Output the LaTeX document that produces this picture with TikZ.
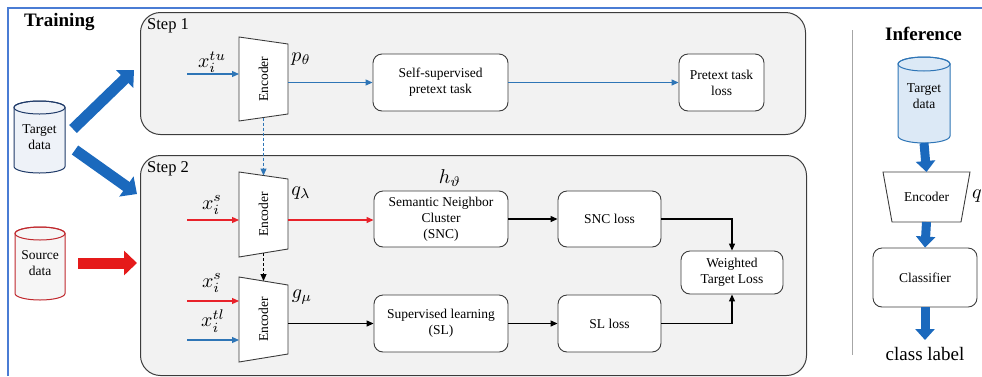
\documentclass[tikz,border=0pt]{standalone}
\usepackage{graphicx}
\usepackage{fontspec}
\setmainfont{Liberation Serif}
\usetikzlibrary{arrows.meta,calc}
\definecolor{lblue}{HTML}{2E75B6}
\definecolor{bigblue}{HTML}{1B69BD}
\definecolor{lred}{HTML}{E8222A}
\definecolor{bigred}{HTML}{E51A1A}
\definecolor{framebl}{HTML}{4A7CD4}
\definecolor{panelfill}{HTML}{F2F2F2}
\definecolor{edgegray}{HTML}{3C3C3C}
\definecolor{navyc}{HTML}{1F3A68}
\definecolor{dredc}{HTML}{C0282D}
\definecolor{cylfill}{HTML}{EEF2F8}
\definecolor{srcfill}{HTML}{F6F6F6}
\definecolor{infill}{HTML}{DCE9F6}
\newcommand\boxfont{\fontsize{13.5}{16}\selectfont}
\newcommand\mlab[1]{\scalebox{2.0}{$#1$}}
\newcommand\mycyl[8]{%
 \draw[draw=#7, fill=#8, line width=1pt] (#1,#3+#6) -- (#1,#4-#6)
   arc[start angle=180, end angle=360, x radius=#5pt, y radius=#6pt]
   -- (#2,#3+#6)
   arc[start angle=0, end angle=180, x radius=#5pt, y radius=#6pt] -- cycle;
 \draw[draw=#7, line width=1pt] ({(#1+#2)/2},#3+#6) ellipse[x radius=#5pt, y radius=#6pt];
}
\tikzset{
 panel/.style={draw=edgegray, line width=1pt, fill=panelfill, rounded corners=20pt, inner sep=0pt},
 blk/.style={draw=edgegray, line width=0.9pt, fill=white, rounded corners=9pt, align=center, font=\boxfont, inner sep=0pt},
 encshape/.style={draw=edgegray, line width=0.9pt, fill=white},
 ancr/.style={inner sep=0pt, outer sep=0pt},
 thinarr/.style={line width=1.2pt, -{Triangle[length=7pt,width=6pt]}},
 barr/.style={thinarr, lblue},
 rarr/.style={thinarr, lred},
 karr/.style={thinarr, black},
 dasharr/.style={line width=1.1pt, dash pattern=on 3pt off 2pt, -{Triangle[length=7pt,width=6pt]}},
 bigarr/.style={line width=11pt, -{Triangle[length=13pt,width=24pt]}},
 infarr/.style={line width=9pt, bigblue, -{Triangle[length=11pt,width=19pt]}},
 cyltext/.style={align=center, font=\boxfont, inner sep=0pt},
 mathlab/.style={inner sep=0pt},
}
\begin{document}
\begin{tikzpicture}[x=1pt, y=-1pt]
\useasboundingbox (0,0) rectangle (982,376);
% frame
\draw[framebl, line width=1.6pt] (8,376) -- (8,8) -- (982,8);
% titles
\node[anchor=base west, inner sep=0pt, font=\fontsize{19}{22}\selectfont\bfseries] (ttrain) at (24,26) {Training};
\node[anchor=base west, inner sep=0pt, font=\fontsize{19}{22}\selectfont\bfseries] (tinf) at (885,40) {Inference};
% panels
\node[panel, minimum width=665pt, minimum height=122pt, anchor=north west] (step1) at (140,12) {};
\node[panel, minimum width=666pt, minimum height=220pt, anchor=north west] (step2) at (140,155) {};
\node[anchor=base west, inner sep=0pt, font=\fontsize{16.5}{18}\selectfont] (s1lab) at (147,29) {Step 1};
\node[anchor=base west, inner sep=0pt, font=\fontsize{16.5}{18}\selectfont] (s2lab) at (147,172) {Step 2};
% cylinders (training)
\mycyl{14}{65}{101}{173}{25.5}{6.5}{navyc}{cylfill}
\node[cyltext, minimum width=51pt, minimum height=72pt] (td) at (39.5,137) {Target\\data};
\mycyl{15}{65}{227}{300}{25}{6.5}{dredc}{srcfill}
\node[cyltext, minimum width=50pt, minimum height=73pt] (sd) at (40,263.5) {Source\\data};
% big arrows
\coordinate (a1s) at (73,129);
\coordinate (a1e) at (134,70);
\coordinate (a2s) at (75,150);
\coordinate (a2e) at (137,194);
\coordinate (a3s) at (78,263);
\coordinate (a3e) at (137,263);
\draw[bigarr, bigblue] (a1s) -- (a1e);
\draw[bigarr, bigblue] (a2s) -- (a2e);
\draw[bigarr, bigred] (a3s) -- (a3e);
% encoders
\draw[encshape] (239,37) -- (288,44) -- (288,114) -- (239,121) -- cycle;
\node[ancr, minimum width=49pt, minimum height=84pt, label={[rotate=90, font=\boxfont]center:Encoder}] (enc1) at (263.5,79) {};
\draw[encshape] (239,172) -- (288,179) -- (288,249) -- (239,257) -- cycle;
\node[ancr, minimum width=49pt, minimum height=85pt, label={[rotate=90, font=\boxfont]center:Encoder}] (enc2) at (263.5,214.5) {};
\draw[encshape] (239,277) -- (288,285) -- (288,354) -- (239,362) -- cycle;
\node[ancr, minimum width=49pt, minimum height=85pt, label={[rotate=90, font=\boxfont]center:Encoder}] (enc3) at (263.5,319.5) {};
\coordinate (e1b) at (263.5,117.5);
\coordinate (e2t) at (263.5,175.5);
\coordinate (e2b) at (263.5,253);
\coordinate (e3t) at (263.5,281);
% math labels
\node[mathlab] (lxtu) at (212,62) {\mlab{x_i^{tu}}};
\node[mathlab] (lp) at (301,59) {\mlab{p_\theta}};
\node[mathlab] (lxs1) at (212,205) {\mlab{x_i^{s}}};
\node[mathlab] (lq) at (301,193) {\mlab{q_\lambda}};
\node[mathlab] (lxs2) at (212,283) {\mlab{x_i^{s}}};
\node[mathlab] (lxtl) at (213,321) {\mlab{x_i^{tl}}};
\node[mathlab] (lg) at (302,297) {\mlab{g_\mu}};
\node[mathlab] (lh) at (450,178) {\mlab{h_\vartheta}};
% blocks
\node[blk, minimum width=135pt, minimum height=57pt] (ss) at (440.5,82.5) {Self-supervised\\pretext task};
\node[blk, minimum width=85pt, minimum height=57pt] (ptl) at (721.5,82.5) {Pretext task\\loss};
\node[blk, minimum width=134pt, minimum height=56pt] (snc) at (441,219) {Semantic Neighbor\\Cluster\\(SNC)};
\node[blk, minimum width=134pt, minimum height=57pt] (sl) at (441,323.5) {Supervised learning\\(SL)};
\node[blk, minimum width=103pt, minimum height=56pt] (sncl) at (609.5,219) {SNC loss};
\node[blk, minimum width=103pt, minimum height=57pt] (sll) at (609.5,323.5) {SL loss};
\node[blk, minimum width=102pt, minimum height=43pt] (wtl) at (732,272.5) {Weighted\\Target Loss};
% step 1 connectors
\coordinate (xtu) at (187,74);
\draw[barr] (xtu) -- (xtu -| enc1.west);
\draw[barr] (enc1.east |- ss) -- (ss);
\draw[barr] (ss) -- (ptl);
\draw[dasharr, lblue] (e1b) -- (e2t);
% step 2 connectors
\coordinate (xs1) at (187,220);
\draw[rarr] (xs1) -- (xs1 -| enc2.west);
\draw[rarr] (enc2.east |- xs1) -- (xs1 -| snc.west);
\draw[dasharr, black] (e2b) -- (e3t);
\coordinate (xs2) at (187,301);
\coordinate (xtl) at (187,340);
\draw[rarr] (xs2) -- (xs2 -| enc3.west);
\draw[barr] (xtl) -- (xtl -| enc3.west);
\draw[karr] (enc3.east |- sl) -- (sl);
\draw[karr] (snc) -- (sncl);
\draw[karr] (sl) -- (sll);
\draw[karr] (sncl.east) -| (wtl.north);
\draw[karr] (sll.east) -| (wtl.south);
% separator
\draw[gray!70, line width=1pt] (852,30) -- (852,355);
% inference
\mycyl{898}{950}{57}{143}{26}{7}{lblue}{infill}
\node[ancr, minimum width=52pt, minimum height=86pt] (itd) at (924,100) {};
\node[cyltext] (itdt) at (924,96) {Target\\data};
\draw[encshape] (883,172) -- (970,172) -- (961,222) -- (892,222) -- cycle;
\node[ancr, minimum width=87pt, minimum height=50pt, font=\boxfont] (ienc) at (926.5,197) {Encoder};
\node[mathlab, anchor=west] (iq) at (972,196) {\mlab{q_\lambda}};
\node[blk, minimum width=104pt, minimum height=59pt] (cls) at (925,277.5) {Classifier};
\node[anchor=base, inner sep=0pt, font=\fontsize{19}{22}\selectfont] (clab) at (925,360) {class label};
\coordinate (clabtop) at (925,340);
\draw[infarr] (itd.south) -- (ienc.north);
\draw[infarr] (ienc.south) -- (cls.north);
\draw[infarr] (cls.south) -- (clabtop);
\end{tikzpicture}
\end{document}
